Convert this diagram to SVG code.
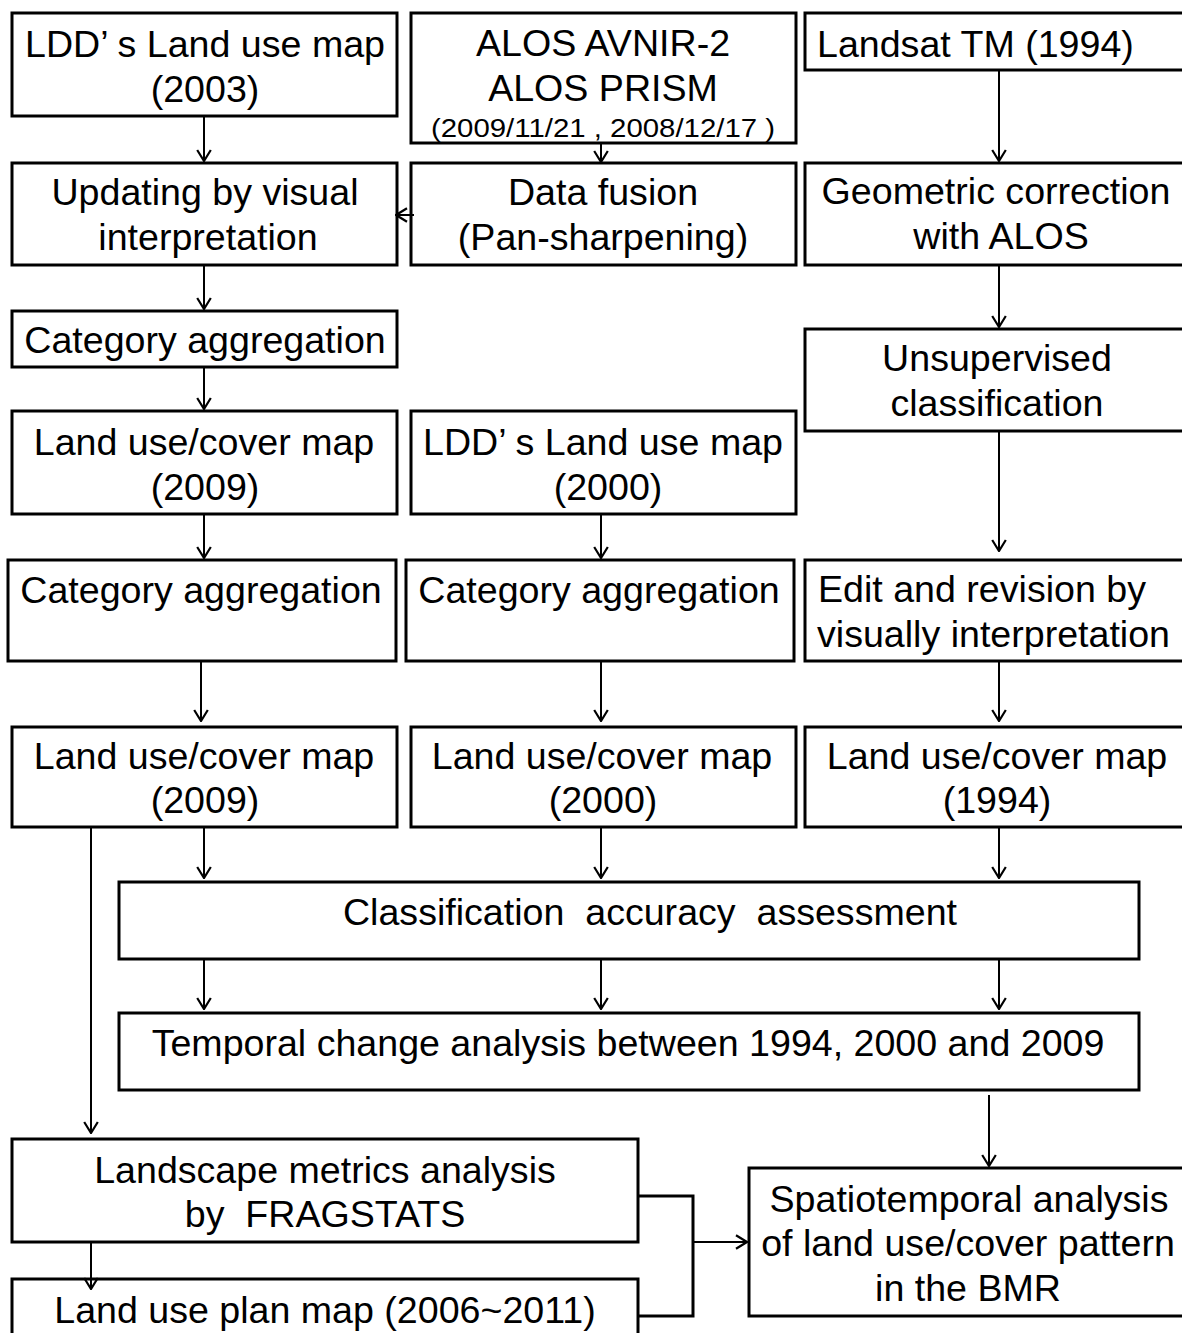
<svg xmlns="http://www.w3.org/2000/svg" width="1182" height="1333" viewBox="0 0 1182 1333">
<style>
.b{fill:#fff;stroke:#000;stroke-width:3}
text{font-family:"Liberation Sans",Arial,sans-serif;font-size:37.6px;fill:#000}
.c{text-anchor:middle}
.s{font-size:26px}
.l{fill:none;stroke:#000;stroke-width:2}
</style>
<defs>
<marker id="a" viewBox="0 0 13 16" refX="12" refY="8" markerWidth="13" markerHeight="16" orient="auto" markerUnits="userSpaceOnUse">
<path d="M1,1.2 L12,8 L1,14.8" fill="none" stroke="#000" stroke-width="2.2"/>
</marker>
</defs>
<rect width="1182" height="1333" fill="#fff"/>
<g id="n1"><rect class="b" x="12" y="13" width="385" height="103"/>
<text class="c" x="205" y="57" xml:space="preserve">LDD’ s Land use map</text><text class="c" x="205" y="102">(2003)</text></g>
<g id="n2"><rect class="b" x="411" y="13" width="385" height="130"/>
<text class="c" x="603" y="56">ALOS AVNIR-2</text><text class="c" x="603" y="101">ALOS PRISM</text>
<text class="c s" x="603" y="137" textLength="344" lengthAdjust="spacingAndGlyphs">(2009/11/21 , 2008/12/17 )</text></g>
<g id="n3"><rect class="b" x="805" y="13" width="390" height="57"/>
<text x="817" y="57">Landsat TM (1994)</text></g>
<g id="n4"><rect class="b" x="12" y="163" width="385" height="102"/>
<text class="c" x="205" y="205">Updating by visual</text><text class="c" x="208" y="250">interpretation</text></g>
<g id="n5"><rect class="b" x="411" y="163" width="385" height="102"/>
<text class="c" x="603" y="205">Data fusion</text><text class="c" x="603" y="250">(Pan-sharpening)</text></g>
<g id="n6"><rect class="b" x="805" y="163" width="390" height="102"/>
<text class="c" x="996" y="204">Geometric correction</text><text class="c" x="1001" y="249">with ALOS</text></g>
<g id="n7"><rect class="b" x="12" y="311" width="385" height="56"/>
<text class="c" x="205" y="353">Category aggregation</text></g>
<g id="n8"><rect class="b" x="805" y="329" width="390" height="102"/>
<text class="c" x="997" y="371">Unsupervised</text><text class="c" x="997" y="416">classification</text></g>
<g id="n9"><rect class="b" x="12" y="411" width="385" height="103"/>
<text class="c" x="204" y="455">Land use/cover map</text><text class="c" x="205" y="500">(2009)</text></g>
<g id="n10"><rect class="b" x="411" y="411" width="385" height="103"/>
<text class="c" x="603" y="455" xml:space="preserve">LDD’ s Land use map</text><text class="c" x="608" y="500">(2000)</text></g>
<g id="n11"><rect class="b" x="8" y="560" width="388" height="101"/>
<text class="c" x="201" y="603">Category aggregation</text></g>
<g id="n12"><rect class="b" x="406" y="560" width="388" height="101"/>
<text class="c" x="599" y="603">Category aggregation</text></g>
<g id="n13"><rect class="b" x="805" y="560" width="390" height="101"/>
<text x="818" y="602">Edit and revision by</text><text x="817" y="647">visually interpretation</text></g>
<g id="n14"><rect class="b" x="12" y="727" width="385" height="100"/>
<text class="c" x="204" y="769">Land use/cover map</text><text class="c" x="205" y="813">(2009)</text></g>
<g id="n15"><rect class="b" x="411" y="727" width="385" height="100"/>
<text class="c" x="602" y="769">Land use/cover map</text><text class="c" x="603" y="813">(2000)</text></g>
<g id="n16"><rect class="b" x="805" y="727" width="390" height="100"/>
<text class="c" x="997" y="769">Land use/cover map</text><text class="c" x="997" y="813">(1994)</text></g>
<g id="n17"><rect class="b" x="119" y="882" width="1020" height="77"/>
<text class="c" x="650" y="925" xml:space="preserve">Classification  accuracy  assessment</text></g>
<g id="n18"><rect class="b" x="119" y="1013" width="1020" height="77"/>
<text class="c" x="628" y="1056">Temporal change analysis between 1994, 2000 and 2009</text></g>
<g id="n19"><rect class="b" x="12" y="1139" width="626" height="103"/>
<text class="c" x="325" y="1183">Landscape metrics analysis</text><text class="c" x="325" y="1227" xml:space="preserve">by  FRAGSTATS</text></g>
<g id="n20"><rect class="b" x="12" y="1279" width="626" height="70"/>
<text class="c" x="325" y="1323">Land use plan map (2006~2011)</text></g>
<g id="n21"><rect class="b" x="749" y="1168" width="446" height="148"/>
<text class="c" x="969" y="1212">Spatiotemporal analysis</text><text class="c" x="968" y="1256">of land use/cover pattern</text><text class="c" x="968" y="1301">in the BMR</text></g>
<g id="connectors">
<line class="l" x1="204" y1="116" x2="204" y2="161" marker-end="url(#a)"/>
<line class="l" x1="601" y1="143" x2="601" y2="162" marker-end="url(#a)"/>
<line class="l" x1="999" y1="70" x2="999" y2="161" marker-end="url(#a)"/>
<line class="l" x1="414" y1="215" x2="396" y2="215" marker-end="url(#a)"/>
<line class="l" x1="204" y1="265" x2="204" y2="309" marker-end="url(#a)"/>
<line class="l" x1="999" y1="265" x2="999" y2="327" marker-end="url(#a)"/>
<line class="l" x1="204" y1="367" x2="204" y2="409" marker-end="url(#a)"/>
<line class="l" x1="999" y1="431" x2="999" y2="551" marker-end="url(#a)"/>
<line class="l" x1="204" y1="514" x2="204" y2="558" marker-end="url(#a)"/>
<line class="l" x1="601" y1="514" x2="601" y2="558" marker-end="url(#a)"/>
<line class="l" x1="201" y1="661" x2="201" y2="721" marker-end="url(#a)"/>
<line class="l" x1="601" y1="661" x2="601" y2="721" marker-end="url(#a)"/>
<line class="l" x1="999" y1="661" x2="999" y2="721" marker-end="url(#a)"/>
<line class="l" x1="204" y1="827" x2="204" y2="878" marker-end="url(#a)"/>
<line class="l" x1="601" y1="827" x2="601" y2="878" marker-end="url(#a)"/>
<line class="l" x1="999" y1="827" x2="999" y2="878" marker-end="url(#a)"/>
<line class="l" x1="204" y1="959" x2="204" y2="1009" marker-end="url(#a)"/>
<line class="l" x1="601" y1="959" x2="601" y2="1009" marker-end="url(#a)"/>
<line class="l" x1="999" y1="959" x2="999" y2="1009" marker-end="url(#a)"/>
<line class="l" x1="91" y1="827" x2="91" y2="1133" marker-end="url(#a)"/>
<line class="l" x1="989" y1="1095" x2="989" y2="1166" marker-end="url(#a)"/>
<line class="l" x1="91" y1="1242" x2="91" y2="1289" marker-end="url(#a)"/>
<path d="M638,1196 H693 V1316 H638" fill="none" stroke="#000" stroke-width="3"/>
<line class="l" x1="693" y1="1242" x2="747" y2="1242" marker-end="url(#a)"/>
</g>
</svg>
